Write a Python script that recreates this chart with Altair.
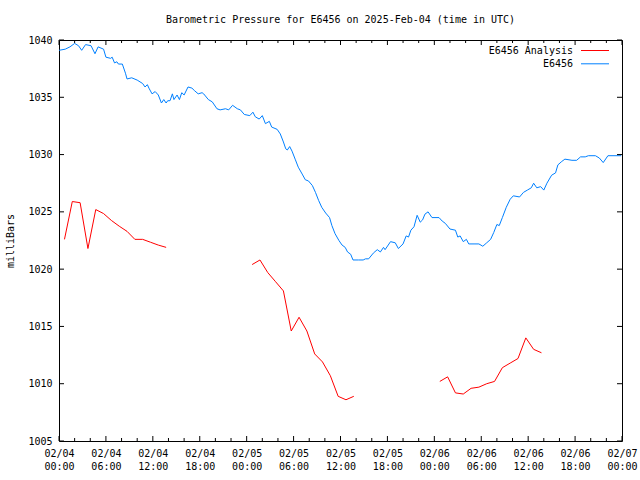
import altair as alt
import pandas as pd

# ---- data (hours since 2025-02-04 00:00 UTC, pressure in mb) ----
blue_t = [0.0, 0.8, 1.4, 2.0, 2.5, 2.9, 3.4, 4.1, 4.6, 5.0, 5.7, 6.0, 6.6, 6.8, 7.1, 7.4, 7.6, 8.1, 8.5, 8.7,
          9.3, 10.0, 10.7, 11.0, 11.3, 11.5, 11.9, 12.3, 12.7, 13.1, 13.4, 13.7, 13.9, 14.2, 14.5, 14.7, 15.1, 15.4, 15.7, 16.0,
          16.5, 17.0, 17.3, 17.8, 18.3, 18.5, 19.1, 19.6, 20.2, 20.6, 21.3, 21.7, 22.2, 22.8, 23.2, 23.7, 24.4, 24.8, 25.1, 25.6,
          26.0, 26.4, 26.9, 27.2, 27.9, 28.3, 28.7, 29.0, 29.2, 29.5, 29.8, 30.2, 30.6, 31.1, 31.5, 31.9, 32.4, 32.8, 33.2, 33.6,
          34.1, 34.6, 34.9, 35.3, 35.8, 36.2, 36.6, 36.9, 37.3, 37.6, 38.3, 38.9, 39.2, 39.6, 40.2, 40.7, 41.1, 41.5, 41.7, 42.4,
          43.0, 43.4, 44.0, 44.4, 44.7, 45.0, 45.4, 45.8, 46.2, 46.5, 46.8, 47.2, 47.7, 48.6, 49.0, 49.4, 50.0, 50.7, 51.0, 51.3,
          51.7, 52.1, 52.4, 53.2, 53.7, 54.2, 54.7, 55.2, 55.6, 56.0, 56.3, 56.7, 57.2, 57.7, 58.1, 58.9, 59.4, 59.9, 60.4, 60.7,
          61.1, 61.6, 62.0, 62.4, 63.0, 63.5, 63.8, 64.3, 64.7, 65.6, 66.2, 66.7, 67.3, 67.7, 68.6, 69.1, 69.6, 70.2, 71.9]
blue_v = [1039.1, 1039.2, 1039.4, 1039.7, 1039.5, 1039.1, 1039.6, 1039.5, 1038.8, 1039.4, 1039.2, 1038.5, 1038.4, 1038.5, 1038.0, 1038.1, 1037.9, 1037.9, 1037.1, 1036.6,
          1036.7, 1036.5, 1036.2, 1035.9, 1036.1, 1035.8, 1035.3, 1035.5, 1035.2, 1034.5, 1034.8, 1034.5, 1034.7, 1034.7, 1035.3, 1034.8, 1035.2, 1034.8, 1035.4, 1035.2,
          1035.9, 1035.8, 1035.6, 1035.3, 1035.4, 1035.3, 1034.8, 1034.6, 1034.0, 1033.9, 1034.0, 1033.9, 1034.3, 1034.0, 1033.9, 1033.5, 1033.4, 1033.7, 1033.3, 1033.1,
          1033.4, 1032.7, 1032.9, 1032.4, 1032.2, 1031.8, 1031.1, 1030.5, 1030.4, 1030.7, 1030.3, 1029.6, 1028.9, 1028.3, 1027.8, 1027.7, 1027.3, 1026.7, 1026.0, 1025.4,
          1024.9, 1024.5, 1023.8, 1023.1, 1022.5, 1022.1, 1021.9, 1021.5, 1021.3, 1020.8, 1020.8, 1020.8, 1020.9, 1020.9, 1021.4, 1021.7, 1021.5, 1021.9, 1021.7, 1022.4,
          1022.3, 1021.8, 1022.2, 1022.9, 1022.8, 1023.4, 1023.7, 1024.7, 1024.1, 1024.3, 1024.8, 1025.0, 1024.5, 1024.5, 1024.2, 1024.0, 1023.5, 1023.4, 1022.8, 1022.9,
          1022.4, 1022.6, 1022.2, 1022.2, 1022.2, 1022.0, 1022.3, 1022.6, 1023.2, 1023.9, 1023.8, 1024.5, 1025.4, 1026.1, 1026.4, 1026.3, 1026.7, 1026.9, 1027.1, 1027.5,
          1027.1, 1027.2, 1026.9, 1027.5, 1028.2, 1028.4, 1029.1, 1029.4, 1029.6, 1029.5, 1029.5, 1029.8, 1029.8, 1029.9, 1029.9, 1029.7, 1029.3, 1029.9, 1029.9]

red_t = [0.7, 1.7, 2.7, 3.7, 4.7, 5.7, 6.7, 7.7, 8.7, 9.7, 10.7, 11.7, 12.7, 13.7,
         24.7, 25.7, 26.7, 27.7, 28.7, 29.7, 30.7, 31.7, 32.7, 33.7, 34.7, 35.7, 36.7, 37.7,
         48.7, 49.7, 50.7, 51.7, 52.7, 53.7, 54.7, 55.7, 56.7, 57.7, 58.7, 59.7, 60.7, 61.7]
red_v = [1022.6, 1025.9, 1025.8, 1021.8, 1025.2, 1024.85, 1024.25, 1023.75, 1023.3, 1022.6, 1022.6, 1022.35, 1022.1, 1021.9,
         1020.4, 1020.8, 1019.7, 1018.9, 1018.1, 1014.6, 1015.8, 1014.6, 1012.6, 1011.9, 1010.7, 1008.9, 1008.6, 1008.9,
         1010.2, 1010.6, 1009.2, 1009.1, 1009.6, 1009.7, 1010.0, 1010.2, 1011.4, 1011.8, 1012.2, 1014.0, 1013.0, 1012.7]
red_seg = ["a"] * 14 + ["b"] * 14 + ["c"] * 14

legend_names = ["E6456 Analysis", "E6456"]
legend_colors = ["#ff0000", "#0080ff"]

x_major = list(range(0, 73, 6))
x_minor = [h for h in range(0, 73, 2) if h % 6]
y_major = list(range(1005, 1041, 5))

TITLE = "Barometric Pressure for E6456 on 2025-Feb-04 (time in UTC)"
FONT = "DejaVu Sans Mono"
W, H = 563, 401

assert len(blue_t) == len(blue_v)
assert len(red_t) == len(red_v) == len(red_seg)

blue = pd.DataFrame({"t": blue_t, "v": blue_v})
red = pd.DataFrame({"t": red_t, "v": red_v, "seg": red_seg})

xscale = alt.Scale(domain=[0, 72], nice=False, zero=False)
yscale = alt.Scale(domain=[1005, 1040], nice=False, zero=False)

label_expr = ("['02/0' + (4 + floor(datum.value / 24)), "
              "(datum.value % 24 < 10 ? '0' : '') + (datum.value % 24) + ':00']")

xaxis = alt.Axis(values=x_major, labelExpr=label_expr, title=None, ticks=False, tickSize=0,
                 domain=False, grid=False, labelFlush=False, labelOverlap=False, labelBound=False,
                 labelPadding=7, labelLineHeight=13, labelFont=FONT, labelFontSize=10, labelColor="black")
yaxis = alt.Axis(values=y_major, format="d", title="milliBars", ticks=False, tickSize=0,
                 domain=False, grid=False, labelOverlap=False, labelPadding=7,
                 labelFont=FONT, labelFontSize=10, labelColor="black",
                 titleFont=FONT, titleFontSize=10, titleFontWeight="normal", titleColor="black",
                 titleAngle=270, titleX=-49, titleY=H / 2, titleAlign="center", titleBaseline="middle")

blue_line = alt.Chart(blue).mark_line(color=legend_colors[1], strokeWidth=1).encode(
    x=alt.X("t:Q", scale=xscale, axis=xaxis),
    y=alt.Y("v:Q", scale=yscale, axis=yaxis),
)
red_line = alt.Chart(red).mark_line(color=legend_colors[0], strokeWidth=1).encode(
    x=alt.X("t:Q"), y=alt.Y("v:Q"), detail="seg:N",
)

xmaj = pd.DataFrame({"t": x_major})
xmin = pd.DataFrame({"t": x_minor})
ymaj = pd.DataFrame({"v": y_major})

def xticks(df, size):
    bottom = alt.Chart(df).mark_rule(color="black", strokeWidth=1).encode(
        x="t:Q", y=alt.value(H), y2=alt.value(H - size))
    top = alt.Chart(df).mark_rule(color="black", strokeWidth=1).encode(
        x="t:Q", y=alt.value(0), y2=alt.value(size))
    return [bottom, top]

yl = alt.Chart(ymaj).mark_rule(color="black", strokeWidth=1).encode(
    y="v:Q", x=alt.value(0), x2=alt.value(5))
yr = alt.Chart(ymaj).mark_rule(color="black", strokeWidth=1).encode(
    y="v:Q", x=alt.value(W), x2=alt.value(W - 5))

legend_layers = []
for i, (name, col) in enumerate(zip(legend_names, legend_colors)):
    yy = 10.5 + i * 13.3
    ldf = pd.DataFrame({"name": [name]})
    legend_layers.append(
        alt.Chart(ldf).mark_text(align="right", baseline="middle", font=FONT, fontSize=10, color="black")
        .encode(text="name:N", x=alt.value(514), y=alt.value(yy)))
    legend_layers.append(
        alt.Chart(ldf).mark_rule(color=col, strokeWidth=1)
        .encode(x=alt.value(522), x2=alt.value(550), y=alt.value(yy)))

chart = alt.layer(
    blue_line, red_line, *xticks(xmaj, 5), *xticks(xmin, 3), yl, yr, *legend_layers
).properties(
    width=W, height=H,
    title=alt.TitleParams(TITLE, font=FONT, fontSize=10, fontWeight="normal", color="black",
                          anchor="middle", frame="group", baseline="alphabetic", offset=2),
    padding={"left": 59, "top": 40, "right": 18, "bottom": 39},
    autosize="none",
    background="white",
).configure_view(stroke="black", strokeWidth=1)

chart.save("out.html", embed_options={"renderer": "svg", "actions": False})
